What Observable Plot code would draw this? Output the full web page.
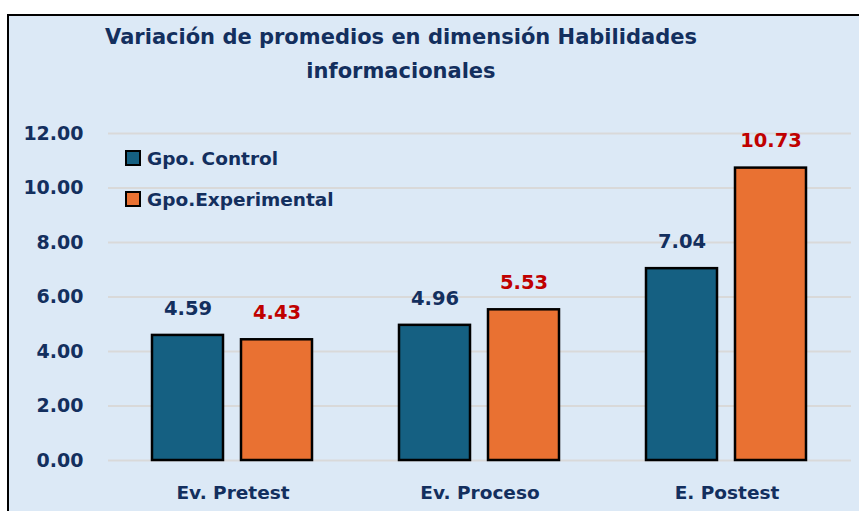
<!DOCTYPE html>
<html>
<head>
<meta charset="utf-8">
<script src="https://cdn.jsdelivr.net/npm/d3@7"></script>
<script src="https://cdn.jsdelivr.net/npm/@observablehq/plot@0.6"></script>
<style>
  html, body { margin: 0; padding: 0; width: 859px; height: 511px; overflow: hidden; background: #ffffff; }
  #box { position: absolute; left: 7px; top: 14px; width: 900px; height: 600px; border: 2px solid #000; background: #dce9f6; box-sizing: border-box; }
  #title { position: absolute; left: 0; top: 20px; width: 802px; text-align: center; font-family: "DejaVu Sans", sans-serif; font-weight: bold; font-size: 21px; line-height: 34px; color: #132f5e; }
  .layer { position: absolute; left: 0; top: 0; }
  .leg { position: absolute; left: 125px; font-family: "DejaVu Sans", sans-serif; font-weight: bold; font-size: 18.5px; color: #132f5e; white-space: nowrap; }
  .leg span.sw { display: inline-block; width: 16px; height: 16px; border: 2px solid #000; box-sizing: border-box; vertical-align: -1px; margin-right: 6px; }
</style>
</head>
<body>
<div id="box"></div>
<div id="grid" class="layer"></div>
<div id="chart" class="layer"></div>
<div id="title">Variación de promedios en dimensión Habilidades<br>informacionales</div>
<div class="leg" id="leg0" style="top:148px"></div>
<div class="leg" id="leg1" style="top:189px"></div>
<script>
const categories = ["Ev. Pretest", "Ev. Proceso", "E. Postest"];
const groups = ["Gpo. Control", "Gpo.Experimental"];
const control = [4.59, 4.96, 7.04];
const experimental = [4.43, 5.53, 10.73];
const yTicks = [0, 2, 4, 6, 8, 10, 12];
const barColors = ["#156082", "#e97132"];
const labelColors = ["#132f5e", "#c00000"];

const data = categories.flatMap((c, i) => [
  {cat: c, group: groups[0], value: control[i]},
  {cat: c, group: groups[1], value: experimental[i]}
]);

const frame = {
  width: 859,
  height: 511,
  marginLeft: 108,
  marginRight: 8,
  marginTop: 133,
  marginBottom: 51,
  style: {background: "transparent", fontFamily: "DejaVu Sans, sans-serif", overflow: "visible"}
};

// Background layer: gridlines and y tick labels across the full frame
const grid = Plot.plot({
  ...frame,
  y: {domain: [0, 12], axis: null},
  marks: [
    Plot.ruleY(yTicks, {stroke: "#d9d9d9", strokeWidth: 2}),
    Plot.text(yTicks, {y: d => d, text: d => d.toFixed(2), frameAnchor: "left", textAnchor: "end", dx: -25, fontSize: 19, fontWeight: "bold", fill: labelColors[0]})
  ]
});
document.getElementById("grid").appendChild(grid);

// Foreground layer: grouped bars, faceted by category
const chart = Plot.plot({
  ...frame,
  fx: {domain: categories, paddingInner: 0.348, paddingOuter: 0.174, label: null, axis: "bottom", tickSize: 0, tickPadding: 25},
  x: {domain: groups, paddingInner: 0.2, paddingOuter: 0, axis: null},
  y: {domain: [0, 12], axis: null},
  color: {domain: groups, range: barColors},
  marks: [
    Plot.barY(data, {fx: "cat", x: "group", y: "value", fill: "group", stroke: "#000", strokeWidth: 2.5}),
    Plot.text(data, {filter: d => d.group === groups[0], fx: "cat", x: "group", y: "value", text: d => d.value.toFixed(2), dy: -27, fill: labelColors[0], fontSize: 19.5, fontWeight: "bold"}),
    Plot.text(data, {filter: d => d.group === groups[1], fx: "cat", x: "group", y: "value", text: d => d.value.toFixed(2), dy: -27, fill: labelColors[1], fontSize: 19.5, fontWeight: "bold"})
  ]
});
d3.select(chart).selectAll("g[aria-label='fx-axis tick label']")
  .attr("font-weight", "bold").attr("fill", labelColors[0]).attr("font-size", 18.5);
document.getElementById("chart").appendChild(chart);

groups.forEach((g, i) => {
  const el = document.getElementById("leg" + i);
  el.innerHTML = `<span class="sw" style="background:${barColors[i]}"></span>${g}`;
});
</script>
</body>
</html>
